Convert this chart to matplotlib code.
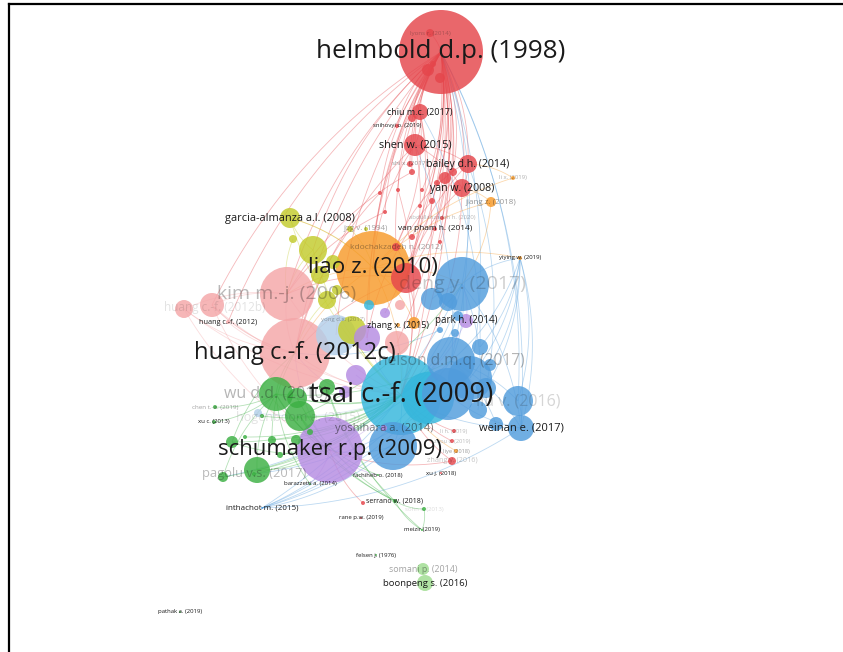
import numpy as np
import matplotlib
matplotlib.use("Agg")
import matplotlib.pyplot as plt
from matplotlib.patches import Circle
from matplotlib.collections import LineCollection

plt.rcParams["font.family"] = ["Open Sans", "DejaVu Sans"]

# cluster colours (VOSviewer-like palette)
cluster_colors = {
    "red": "#e5454b",
    "orange": "#f79a2a",
    "yellow": "#c3cb2c",
    "cyan": "#33b6dc",
    "blue": "#519cdc",
    "paleblue": "#b3cfe9",
    "pink": "#f4a6a8",
    "purple": "#b58be2",
    "green": "#3cb043",
    "lightgreen": "#9edc8f",
}

# layout coordinates (x, y) and node weight (circle radius) per cluster
red_nodes = [
    ("helmbold", 441, 52, 42), ("lyons", 430, 33, 4), ("r_a", 428, 70, 6),
    ("r_b", 440, 78, 5), ("r_c", 433, 64, 3), ("chiu", 420, 112, 8),
    ("r_d", 412, 118, 4), ("snihovyi", 397, 126, 2), ("shen", 415, 145, 11),
    ("shi", 410, 164, 3), ("bailey", 468, 164, 9), ("r_e", 445, 178, 6),
    ("r_f", 453, 172, 4), ("r_g", 437, 183, 3), ("r_h", 412, 172, 3),
    ("r_i", 422, 190, 2), ("yan", 462, 188, 9), ("r_j", 380, 193, 2),
    ("r_k", 398, 190, 2), ("r_l", 432, 201, 3), ("r_m", 385, 212, 2),
    ("r_n", 420, 206, 2), ("abdullah", 442, 218, 2), ("vanpham", 435, 229, 2),
    ("r_o", 412, 237, 3), ("kdocha", 396, 247, 4), ("r_big", 406, 278, 15),
    ("r_p", 440, 242, 2), ("r_t", 452, 461, 4), ("xuj", 441, 473, 1),
    ("r_q", 454, 431, 2), ("r_r", 452, 441, 2), ("r_s", 363, 503, 2),
    ("rane", 361, 518, 1),
]
orange_nodes = [
    ("liao", 373, 268, 37), ("jiang", 491, 202, 5), ("lix", 513, 178, 2),
    ("yiying", 520, 258, 2), ("o_b", 414, 323, 6), ("zhangx", 398, 325, 2),
    ("o_a", 456, 451, 2),
]
yellow_nodes = [
    ("garcia", 290, 218, 10), ("jog", 366, 229, 2), ("y_a", 293, 239, 4),
    ("y_b", 313, 250, 14), ("y_c", 320, 275, 9), ("y_d", 333, 262, 7),
    ("y_e", 327, 300, 9), ("y_f", 352, 330, 14), ("y_g", 337, 290, 5),
    ("y_h", 350, 229, 3),
]
cyan_nodes = [
    ("tsai", 401, 395, 40), ("c_b", 428, 398, 26), ("c_a", 369, 305, 5),
]
blue_nodes = [
    ("deng", 462, 284, 27), ("b_a", 432, 299, 11), ("b_b", 448, 302, 9),
    ("b_c", 458, 316, 5), ("nelson", 451, 361, 24), ("b_d", 470, 378, 22),
    ("b_e", 448, 394, 26), ("b_f", 486, 388, 10), ("liuv", 518, 401, 15),
    ("b_g", 478, 410, 9), ("weinan", 521, 428, 13), ("b_h", 496, 424, 7),
    ("b_i", 393, 446, 24), ("b_j", 480, 347, 8), ("b_k", 490, 365, 6),
    ("b_l", 455, 333, 4), ("b_m", 440, 330, 3), ("inthachot", 262, 508, 1),
]
paleblue_nodes = [
    ("lb_a", 336, 335, 20), ("lb_b", 258, 413, 4), ("yong", 343, 319, 2),
]
pink_nodes = [
    ("kim", 287, 294, 27), ("p_a", 212, 305, 12), ("p_b", 184, 309, 9),
    ("huang12b", 215, 308, 1), ("huang12", 228, 322, 2),
    ("huang12c", 295, 353, 35), ("p_c", 397, 343, 12), ("p_d", 400, 305, 5),
]
purple_nodes = [
    ("schumaker", 330, 450, 33), ("park", 466, 321, 7), ("pu_a", 367, 338, 13),
    ("pu_b", 385, 313, 5), ("pu_c", 356, 375, 10), ("pu_d", 345, 392, 6),
    ("yoshihara", 384, 428, 3),
]
green_nodes = [
    ("wud", 276, 394, 17), ("g_b", 300, 416, 15), ("g_c", 327, 387, 8),
    ("g_d", 297, 398, 10), ("g_e", 232, 442, 6), ("g_f", 245, 437, 2),
    ("g_g", 262, 416, 2), ("g_h", 272, 440, 4), ("g_i", 296, 440, 5),
    ("g_j", 257, 470, 13), ("pagolu", 254, 474, 2), ("g_k", 223, 477, 5),
    ("chent", 215, 407, 2), ("xuc", 214, 422, 2), ("hoge", 298, 417, 1),
    ("g_l", 280, 455, 3), ("g_m", 310, 432, 3), ("barazzetti", 310, 484, 1),
    ("fachiheb", 378, 475, 1), ("serrano", 395, 501, 2), ("meizir", 422, 530, 1),
    ("sohn", 424, 509, 2), ("felsen", 376, 555, 1), ("pathak", 180, 612, 1),
]
lightgreen_nodes = [
    ("somani", 423, 569, 6), ("boonpeng", 425, 583, 8),
]

clusters = {
    "red": red_nodes, "orange": orange_nodes, "yellow": yellow_nodes,
    "cyan": cyan_nodes, "blue": blue_nodes, "paleblue": paleblue_nodes,
    "pink": pink_nodes, "purple": purple_nodes, "green": green_nodes,
    "lightgreen": lightgreen_nodes,
}

# document labels
labels = {
    "helmbold": "helmbold d.p. (1998)", "lyons": "lyons r. (2014)",
    "chiu": "chiu m.c. (2017)", "snihovyi": "snihovyi o. (2019)",
    "shen": "shen w. (2015)", "shi": "shi x. (2017)",
    "bailey": "bailey d.h. (2014)", "yan": "yan w. (2008)",
    "jiang": "jiang z. (2018)", "lix": "li x. (2019)",
    "abdullah": "abdullahzadeh h. (2020)", "vanpham": "van pham h. (2014)",
    "jog": "jog v. (1994)", "kdocha": "kdochakzadeh n. (2012)",
    "garcia": "garcia-almanza a.l. (2008)", "yiying": "yiying w. (2019)",
    "liao": "liao z. (2010)", "deng": "deng y. (2017)",
    "kim": "kim m.-j. (2006)", "huang12b": "huang c.-f. (2012b)",
    "huang12": "huang c.-f. (2012)", "yong": "yong d.x. (2017)",
    "zhangx": "zhang x. (2015)", "park": "park h. (2014)",
    "huang12c": "huang c.-f. (2012c)", "nelson": "nelson d.m.q. (2017)",
    "tsai": "tsai c.-f. (2009)", "wud": "wu d.d. (2010)",
    "liuv": "liu v. (2016)", "weinan": "weinan e. (2017)",
    "yoshihara": "yoshihara a. (2014)", "chent": "chen t.-a. (2019)",
    "xuc": "xu c. (2013)", "hoge": "hogenboom a. (2015)",
    "schumaker": "schumaker r.p. (2009)", "pagolu": "pagolu v.s. (2017)",
    "barazzetti": "barazzetti a. (2014)", "fachiheb": "fachiheb o. (2018)",
    "r_q": "li h. (2019)", "r_r": "zhou c. (2019)", "o_a": "liye (2018)",
    "r_t": "zhang y. (2016)", "xuj": "xu j. (2018)",
    "serrano": "serrano w. (2018)", "inthachot": "inthachot m. (2015)",
    "rane": "rane p.w. (2019)", "sohn": "sohn s. (2013)",
    "meizir": "meizir (2019)", "felsen": "felsen j. (1976)",
    "somani": "somani p. (2014)", "boonpeng": "boonpeng s. (2016)",
    "pathak": "pathak a. (2019)",
}

# citation links between documents
links = [
    # red
    ("helmbold", "r_a"), ("helmbold", "r_b"), ("helmbold", "r_c"), ("helmbold", "lyons"),
    ("helmbold", "chiu"), ("helmbold", "r_d"), ("helmbold", "shen"), ("helmbold", "snihovyi"),
    ("helmbold", "shi"), ("helmbold", "bailey"), ("helmbold", "r_e"), ("helmbold", "r_f"),
    ("helmbold", "r_g"), ("helmbold", "r_h"), ("helmbold", "r_i"), ("helmbold", "yan"),
    ("helmbold", "r_j"), ("helmbold", "r_k"), ("helmbold", "r_l"), ("helmbold", "r_m"),
    ("helmbold", "r_n"), ("helmbold", "abdullah"), ("helmbold", "vanpham"), ("helmbold", "r_o"),
    ("helmbold", "kdocha"), ("helmbold", "r_big"), ("helmbold", "r_p"), ("helmbold", "liao"),
    ("helmbold", "kim"), ("helmbold", "huang12c"), ("helmbold", "tsai"), ("helmbold", "o_b"),
    ("helmbold", "huang12"), ("helmbold", "p_c"), ("helmbold", "pu_a"), ("helmbold", "y_b"),
    ("helmbold", "p_a"), ("helmbold", "c_a"), ("helmbold", "pu_b"), ("helmbold", "lb_a"),
    ("chiu", "shen"), ("chiu", "r_big"), ("chiu", "kdocha"), ("chiu", "tsai"),
    ("shen", "bailey"), ("shen", "yan"), ("shen", "r_big"), ("shen", "liao"), ("shen", "huang12c"),
    ("bailey", "yan"), ("bailey", "r_e"), ("bailey", "r_big"), ("yan", "r_big"), ("yan", "tsai"),
    ("r_e", "r_big"), ("r_e", "kdocha"), ("kdocha", "r_big"), ("r_big", "tsai"),
    ("r_big", "kim"), ("r_big", "huang12c"), ("r_big", "o_b"), ("r_h", "kim"),
    ("r_j", "huang12c"), ("r_k", "tsai"), ("r_m", "kim"), ("r_l", "pu_a"),
    ("r_t", "tsai"), ("r_t", "schumaker"), ("r_q", "tsai"), ("r_r", "tsai"), ("r_s", "schumaker"),
    # blue
    ("deng", "helmbold"), ("nelson", "helmbold"), ("weinan", "helmbold"), ("b_d", "helmbold"),
    ("liuv", "helmbold"), ("b_e", "shen"), ("b_f", "bailey"), ("b_j", "chiu"),
    ("deng", "b_a"), ("deng", "b_b"), ("deng", "nelson"), ("deng", "tsai"),
    ("deng", "yiying"), ("nelson", "yiying"), ("b_d", "yiying"), ("liuv", "yiying"),
    ("weinan", "yiying"), ("b_j", "yiying"), ("b_f", "yiying"), ("b_k", "yiying"),
    ("weinan", "nelson"), ("weinan", "tsai"), ("weinan", "liuv"), ("weinan", "b_e"),
    ("weinan", "deng"), ("liuv", "nelson"), ("b_g", "deng"), ("b_h", "nelson"),
    ("inthachot", "b_i"), ("inthachot", "tsai"), ("inthachot", "b_e"), ("inthachot", "nelson"),
    ("inthachot", "deng"), ("inthachot", "weinan"), ("inthachot", "c_b"),
    ("b_i", "schumaker"), ("b_i", "tsai"), ("b_e", "pagolu"), ("nelson", "g_k"),
    ("b_l", "tsai"), ("b_m", "huang12c"), ("b_c", "tsai"),
    # orange
    ("jiang", "liao"), ("jiang", "yan"), ("jiang", "deng"), ("lix", "liao"), ("lix", "bailey"),
    ("liao", "tsai"), ("liao", "kim"), ("liao", "huang12c"), ("liao", "garcia"),
    ("o_b", "liao"), ("liao", "deng"), ("yiying", "liao"), ("o_a", "tsai"),
    # yellow
    ("garcia", "liao"), ("garcia", "y_b"), ("garcia", "tsai"), ("y_h", "liao"),
    ("y_b", "kim"), ("y_b", "tsai"), ("y_e", "huang12c"), ("y_a", "kim"), ("y_f", "tsai"),
    # pink
    ("p_a", "huang12c"), ("p_b", "huang12c"), ("p_a", "kim"), ("p_b", "kim"),
    ("huang12", "huang12c"), ("huang12b", "huang12c"), ("kim", "huang12c"),
    ("p_a", "tsai"), ("p_b", "schumaker"), ("kim", "tsai"), ("huang12c", "tsai"),
    ("p_b", "tsai"), ("p_a", "schumaker"), ("p_c", "tsai"),
    # purple
    ("schumaker", "tsai"), ("schumaker", "huang12c"), ("schumaker", "wud"), ("pu_a", "tsai"),
    ("park", "deng"), ("park", "tsai"), ("schumaker", "fachiheb"), ("schumaker", "barazzetti"),
    ("pu_c", "tsai"), ("pu_d", "huang12c"),
    # green
    ("wud", "tsai"), ("wud", "schumaker"), ("wud", "huang12c"), ("g_b", "tsai"),
    ("g_b", "schumaker"), ("wud", "serrano"), ("g_b", "serrano"), ("g_c", "serrano"),
    ("g_b", "fachiheb"), ("wud", "g_j"), ("g_j", "schumaker"), ("g_e", "tsai"),
    ("g_f", "tsai"), ("chent", "wud"), ("xuc", "wud"), ("g_g", "tsai"), ("g_h", "tsai"),
    ("g_i", "tsai"), ("g_k", "wud"), ("pagolu", "tsai"), ("serrano", "meizir"),
    ("serrano", "sohn"), ("sohn", "meizir"), ("g_c", "meizir"), ("wud", "barazzetti"),
    ("g_l", "tsai"), ("g_m", "tsai"), ("g_j", "tsai"), ("g_e", "schumaker"),
    ("wud", "nelson"), ("g_b", "deng"), ("g_d", "tsai"), ("g_d", "serrano"),
    ("g_h", "huang12c"), ("g_e", "huang12c"), ("g_k", "tsai"), ("lb_b", "tsai"),
]

# label size (pt) and opacity
label_style = {
    "helmbold": (18.7, 1.0), "lyons": (4.5, 0.3), "chiu": (6.5, 1.0),
    "snihovyi": (4.3, 1.0), "shen": (7.8, 1.0), "shi": (4.6, 0.45),
    "bailey": (7.6, 1.0), "yan": (7.6, 1.0), "jiang": (5.8, 0.45),
    "lix": (4.3, 0.35), "abdullah": (4.3, 0.3), "vanpham": (6.0, 1.0),
    "jog": (5.8, 0.4), "kdocha": (6.0, 0.4), "garcia": (7.9, 1.0),
    "yiying": (4.3, 1.0), "liao": (16.1, 1.0), "deng": (14, 0.22),
    "kim": (14, 0.3), "huang12b": (8.5, 0.12), "huang12": (5.2, 1.0),
    "yong": (4.3, 0.35), "zhangx": (6.4, 1.0), "park": (7, 1.0),
    "huang12c": (17.1, 1.0), "nelson": (11.2, 0.32), "tsai": (19.8, 1.0),
    "wud": (11.5, 0.32), "liuv": (11.5, 0.18), "weinan": (8, 1.0),
    "yoshihara": (8, 0.55), "chent": (4.5, 0.4), "xuc": (4.3, 1.0),
    "hoge": (9, 0.12), "schumaker": (15.9, 1.0), "pagolu": (9.3, 0.3),
    "barazzetti": (4.3, 1.0), "fachiheb": (4.3, 1.0), "r_q": (4.1, 0.3),
    "r_r": (4.1, 0.3), "o_a": (4.1, 0.45), "r_t": (5.2, 0.25), "xuj": (4.3, 1.0),
    "serrano": (5, 1.0), "inthachot": (5.8, 1.0), "rane": (4.3, 1.0),
    "sohn": (4.3, 0.15), "meizir": (4.3, 1.0), "felsen": (4.3, 1.0),
    "somani": (6.4, 0.4), "boonpeng": (6.8, 1.0), "pathak": (4.3, 1.0),
}

pos = {}
radius = {}
color = {}
for cname, nodes in clusters.items():
    for key, x, y, r in nodes:
        pos[key] = np.array([x, y], dtype=float)
        radius[key] = r
        color[key] = cluster_colors[cname]

W, H = 843, 652
fig = plt.figure(figsize=(W / 100, H / 100), dpi=100)
ax = fig.add_axes([9 / W, 0, (W - 9) / W, (H - 4) / H])
ax.set_xlim(9, W)
ax.set_ylim(H, 4)
ax.set_xticks([])
ax.set_yticks([])
for side in ("right", "bottom"):
    ax.spines[side].set_visible(False)
for side in ("top", "left"):
    ax.spines[side].set_linewidth(1.6)
    ax.spines[side].set_color("black")

# curved links, bowed away from the centre of the map
centre = np.array([380.0, 330.0])
t = np.linspace(0, 1, 30)[:, None]
segs, seg_colors = [], []
for a, b in links:
    p0, p1 = pos[a], pos[b]
    d = p1 - p0
    length = np.hypot(*d)
    if length == 0:
        continue
    perp = np.array([d[1], -d[0]]) / length
    mid = (p0 + p1) / 2
    if np.dot(perp, mid - centre) < 0:
        perp = -perp
    ctrl = mid + perp * length * 0.14
    curve = (1 - t) ** 2 * p0 + 2 * (1 - t) * t * ctrl + t ** 2 * p1
    segs.append(curve)
    seg_colors.append(matplotlib.colors.to_rgba(color[a], 0.38))
ax.add_collection(LineCollection(segs, colors=seg_colors, linewidths=0.6, zorder=1))

# nodes, large ones underneath
for key in sorted(pos, key=lambda k: -radius[k]):
    ax.add_patch(Circle(pos[key], radius[key], facecolor=color[key],
                        edgecolor="none", alpha=0.82, zorder=2))

# labels, large ones on top
for key in sorted(labels, key=lambda k: label_style[k][0]):
    size, alpha = label_style[key]
    x, y = pos[key]
    ax.text(x, y, labels[key], fontsize=size, color="#1a1a1a", alpha=alpha,
            ha="center", va="center", zorder=3)

fig.savefig("out.png", dpi=100)
